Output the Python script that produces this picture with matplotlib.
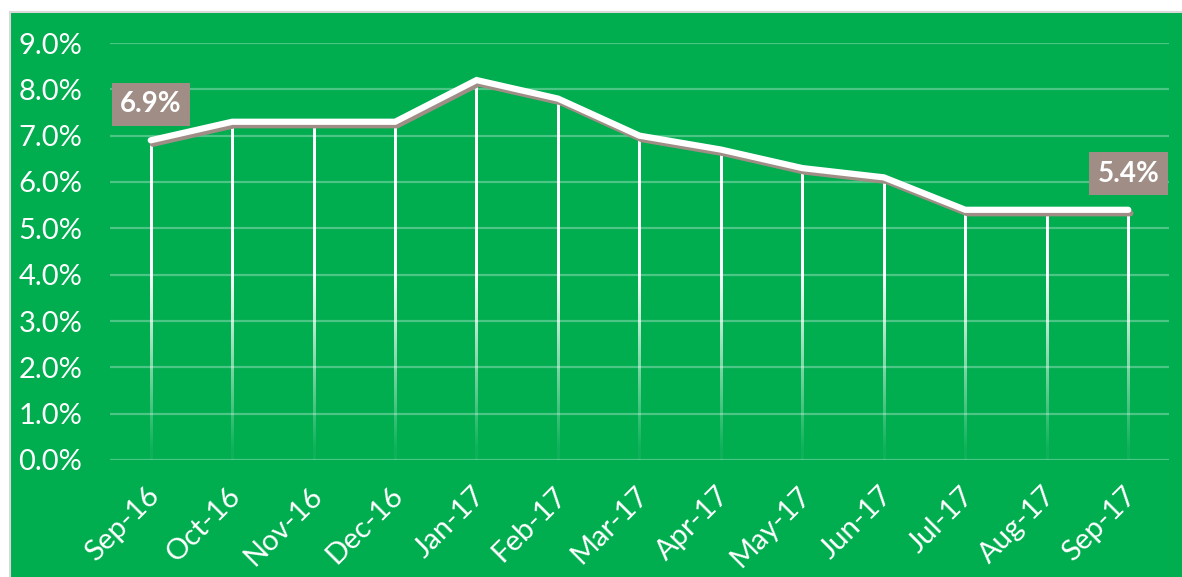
import numpy as np
import matplotlib
matplotlib.use('Agg')
import matplotlib.pyplot as plt
import matplotlib.patheffects as pe
import matplotlib.transforms as mtransforms
from matplotlib.patches import Rectangle
from matplotlib.ticker import PercentFormatter

plt.rcParams['font.family'] = ['Lato', 'DejaVu Sans']

# data
months = ['Sep-16', 'Oct-16', 'Nov-16', 'Dec-16', 'Jan-17', 'Feb-17', 'Mar-17',
          'Apr-17', 'May-17', 'Jun-17', 'Jul-17', 'Aug-17', 'Sep-17']
rate = [6.9, 7.3, 7.3, 7.3, 8.2, 7.8, 7.0, 6.7, 6.3, 6.1, 5.4, 5.4, 5.4]
labelled = [0, 12]

green = '#00ad4f'
taupe = '#a08e86'

fig = plt.figure(figsize=(11.82, 5.77), dpi=100)
fig.patch.set_facecolor('white')
# chart area background with thin grey border
fig.patches.append(Rectangle((10 / 1182, -0.01), 1.0, 1 - 12 / 577 + 0.01,
                             transform=fig.transFigure, facecolor=green,
                             edgecolor='#d9d9d9', linewidth=1.5, zorder=-5))

ax = fig.add_axes([110 / 1182, 1 - 460 / 577, 1059 / 1182, 417 / 577])
ax.set_facecolor('none')
ax.set_zorder(2)
x = np.arange(len(months))

# gridlines
ax.set_ylim(0, 9)
ax.set_xlim(-0.5, len(months) - 0.5)
ax.set_yticks(np.arange(0, 9.5, 1))
ax.yaxis.grid(True, color='#4cc685', linewidth=1.6)
ax.set_axisbelow(True)

# drop lines, fading towards the bottom (thin gradient images)
w = 2.2 / (1059 / len(months))  # ~2px wide in data units
for xi, v in zip(x, rate):
    ys = np.linspace(0, v, 200)
    alpha = np.clip(ys / 4.0, 0.06, 1.0)
    img = np.ones((len(ys), 1, 4))
    img[:, 0, 3] = alpha
    ax.imshow(img, extent=(xi - w / 2, xi + w / 2, 0, v), origin='lower',
              aspect='auto', interpolation='bilinear', zorder=2)
ax.set_xlim(-0.5, len(months) - 0.5)
ax.set_ylim(0, 9)

# main line with shadow
ax.plot(x, rate, color='white', linewidth=4.5, solid_capstyle='round',
        solid_joinstyle='miter', zorder=3,
        path_effects=[pe.SimpleLineShadow(offset=(1.5, -2.5), shadow_color=taupe,
                                          alpha=1.0), pe.Normal()])

for i in labelled:
    ax.annotate('%.1f%%' % rate[i], (x[i], rate[i]), xytext=(0, 36),
                textcoords='offset pixels', ha='center', va='center',
                fontsize=20, fontweight='bold', color='white', zorder=5,
                bbox=dict(boxstyle='square,pad=0.3', facecolor=taupe, edgecolor='none'))

ax.yaxis.set_major_formatter(PercentFormatter(decimals=1))
ax.set_xticks(x)
ax.set_xticklabels(months, rotation=45, ha='right', rotation_mode='anchor')
ax.tick_params(axis='both', colors='white', labelsize=21, length=0)
ax.tick_params(axis='x', pad=16)
ax.tick_params(axis='y', pad=20)
shift = mtransforms.ScaledTranslation(-5 / 100, 0, fig.dpi_scale_trans)
for lab in ax.get_xticklabels():
    lab.set_transform(lab.get_transform() + shift)
for s in ax.spines.values():
    s.set_visible(False)

fig.savefig('out.png', dpi=100, facecolor='white')
